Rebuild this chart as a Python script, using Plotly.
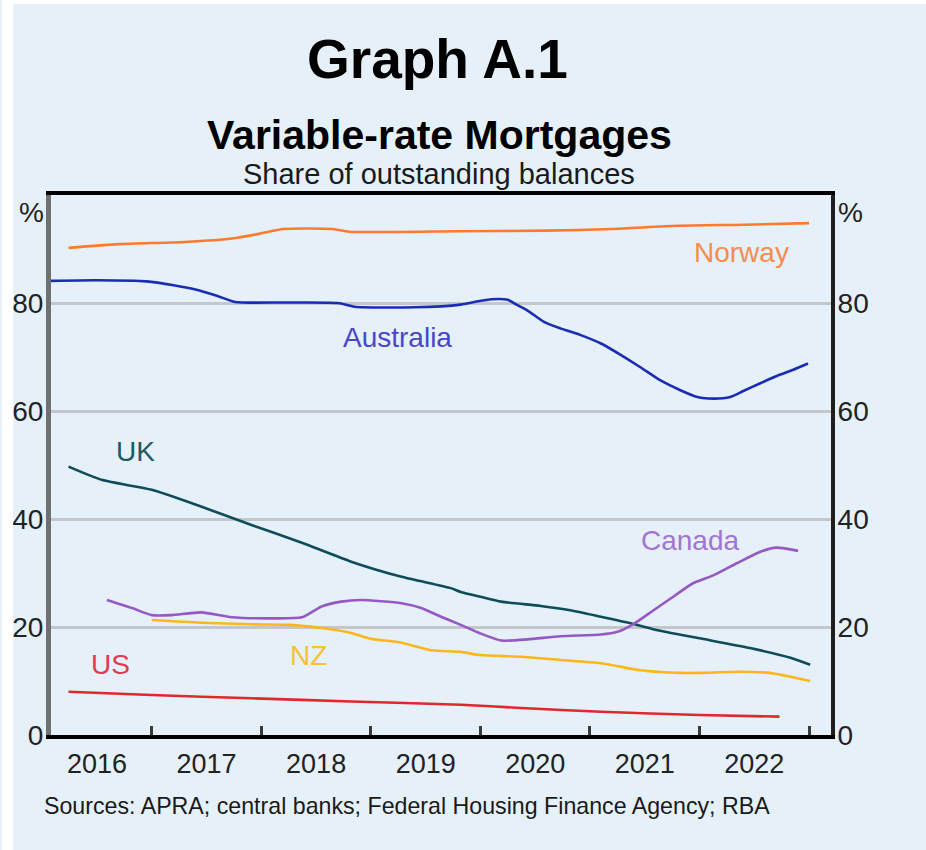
import plotly.graph_objects as go

# ---------------- data ----------------
norway_x = [2016.24, 2016.7, 2017.3, 2017.75, 2018.0, 2018.2, 2018.65, 2018.8, 2019.8, 2020.6, 2021.2, 2021.8, 2022.4, 2023.0]
norway_y = [90.2, 90.9, 91.3, 92.0, 92.9, 93.7, 93.7, 93.2, 93.3, 93.4, 93.7, 94.3, 94.5, 94.8]

australia_x = [2016.08, 2016.5, 2016.95, 2017.2, 2017.4, 2017.6, 2017.76, 2018.2, 2018.7, 2018.85, 2019.4,
               2019.82, 2020.0, 2020.1, 2020.25, 2020.33, 2020.43, 2020.58, 2020.73, 2020.91, 2021.1,
               2021.28, 2021.46, 2021.64, 2021.82, 2021.98, 2022.13, 2022.28, 2022.4, 2022.55, 2022.73,
               2022.85, 2022.99]
australia_y = [84.1, 84.2, 84.0, 83.3, 82.5, 81.3, 80.2, 80.1, 80.0, 79.3, 79.2,
               79.7, 80.4, 80.7, 80.6, 79.7, 78.6, 76.5, 75.3, 74.1, 72.5,
               70.4, 68.1, 65.7, 63.9, 62.6, 62.3, 62.6, 63.7, 65.1, 66.7,
               67.6, 68.8]

uk_x = [2016.24, 2016.55, 2017.0, 2017.45, 2017.91, 2018.37, 2018.82, 2019.28, 2019.73, 2019.82, 2020.0,
        2020.19, 2020.55, 2020.82, 2021.1, 2021.37, 2021.64, 2022.0, 2022.46, 2022.83, 2023.01]
uk_y = [49.7, 47.2, 45.4, 42.3, 38.9, 35.6, 32.1, 29.3, 27.2, 26.5, 25.6,
        24.7, 23.9, 23.1, 21.9, 20.7, 19.3, 17.9, 16.1, 14.3, 13.0]

canada_x = [2016.59, 2016.82, 2017.0, 2017.18, 2017.45, 2017.73, 2018.09, 2018.37, 2018.55, 2018.73,
            2018.91, 2019.28, 2019.46, 2019.64, 2019.82, 2020.0, 2020.19, 2020.43, 2020.73, 2021.1,
            2021.25, 2021.4, 2021.58, 2021.76, 2021.94, 2022.13, 2022.34, 2022.55, 2022.7, 2022.9]
canada_y = [25.0, 23.5, 22.2, 22.2, 22.7, 21.8, 21.6, 21.8, 23.8, 24.7,
            25.0, 24.4, 23.5, 21.9, 20.4, 18.8, 17.5, 17.7, 18.3, 18.6,
            19.1, 20.6, 23.1, 25.6, 28.1, 29.6, 31.8, 33.9, 34.7, 34.1]

nz_x = [2017.0, 2017.45, 2017.91, 2018.27, 2018.55, 2018.82, 2019.0, 2019.28, 2019.55, 2019.82, 2020.0,
        2020.37, 2020.73, 2021.1, 2021.46, 2021.82, 2022.0, 2022.37, 2022.64, 2022.83, 2023.01]
nz_y = [21.3, 20.8, 20.5, 20.4, 19.8, 18.9, 17.8, 17.1, 15.7, 15.4, 14.8,
        14.5, 13.9, 13.3, 12.0, 11.5, 11.5, 11.7, 11.5, 10.8, 10.0]

us_x = [2016.24, 2017.0, 2017.91, 2018.82, 2019.82, 2020.37, 2021.1, 2022.0, 2022.73]
us_y = [8.0, 7.4, 6.8, 6.2, 5.6, 5.0, 4.3, 3.7, 3.4]

year_labels = ["2016", "2017", "2018", "2019", "2020", "2021", "2022"]
year_starts = [2016, 2017, 2018, 2019, 2020, 2021, 2022, 2023]
y_ticks = [0, 20, 40, 60, 80]

series_names = ["Norway", "Australia", "UK", "Canada", "NZ", "US"]
label_x = [2022.38, 2019.24, 2016.85, 2021.92, 2018.43, 2016.62]
label_y = [89.3, 73.7, 52.5, 36.1, 14.8, 13.0]

# ---------------- styling ----------------
FONT = "Liberation Sans, Arial, Helvetica, sans-serif"
BG = "#e6f0f8"
line_colors = {
    "Norway": "#ff7a2c",
    "Australia": "#1a2db2",
    "UK": "#0d4c58",
    "Canada": "#9659c4",
    "NZ": "#fdb61c",
    "US": "#e0282d",
}
label_colors = {
    "Norway": "#f58c50",
    "Australia": "#4b45c8",
    "UK": "#1e5a66",
    "Canada": "#a474d2",
    "NZ": "#f5c235",
    "US": "#e23a52",
}
data = {
    "Norway": (norway_x, norway_y),
    "Australia": (australia_x, australia_y),
    "UK": (uk_x, uk_y),
    "Canada": (canada_x, canada_y),
    "NZ": (nz_x, nz_y),
    "US": (us_x, us_y),
}

fig = go.Figure()
for name in ["US", "NZ", "UK", "Canada", "Australia", "Norway"]:
    xs, ys = data[name]
    fig.add_trace(go.Scatter(
        x=xs, y=ys, mode="lines", name=name,
        line=dict(color=line_colors[name], width=2.6, shape="spline", smoothing=0.6),
        hoverinfo="skip", showlegend=False,
    ))
# invisible trace so the right-hand axis is drawn
fig.add_trace(go.Scatter(x=[2016.5], y=[0], yaxis="y2", mode="markers",
                         marker=dict(opacity=0), hoverinfo="skip", showlegend=False))

X_RANGE = [2016.08, 2023.2]
mid_years = [y + 0.5 for y in year_starts[:-1]]

fig.update_layout(
    width=926, height=850,
    margin=dict(l=49, r=95, t=195, b=115),
    paper_bgcolor=BG, plot_bgcolor=BG,
    font=dict(family=FONT, color="#1a1a1a"),
    xaxis=dict(
        range=X_RANGE, showgrid=False, zeroline=False,
        tickvals=mid_years, ticktext=year_labels, ticks="",
        tickfont=dict(size=27, family=FONT, color="#222"),
        ticklabelstandoff=2,
        showline=True, linecolor="#000000", linewidth=4, mirror=True,
        minor=dict(tickvals=year_starts, ticks="inside", ticklen=9, tickwidth=2.5,
                   tickcolor="#3a3a3a", showgrid=False),
    ),
    yaxis=dict(
        range=[0, 100], tickvals=y_ticks, ticktext=[str(v) for v in y_ticks],
        showgrid=True, gridcolor="#c3c6ca", gridwidth=2.5, zeroline=False,
        tickfont=dict(size=28, family=FONT, color="#222"),
        ticks="", ticklabelstandoff=-3,
        showline=True, linecolor="#6f7171", linewidth=5,
    ),
    yaxis2=dict(
        range=[0, 100], overlaying="y", side="right",
        tickvals=y_ticks, ticktext=[str(v) for v in y_ticks],
        showgrid=False, zeroline=False,
        tickfont=dict(size=28, family=FONT, color="#222"),
        ticks="", ticklabelstandoff=-3,
        showline=True, linecolor="#1e1e1e", linewidth=4,
    ),
    hovermode=False,
    showlegend=False,
)

annotations = []
annotations.append(dict(text="<b>Graph A.1</b>", x=0.5, y=(735 - 59) / 540, xref="paper", yref="paper",
                        showarrow=False, font=dict(size=55, family=FONT, color="#000"),
                        xanchor="center", yanchor="middle", xshift=-4))
annotations.append(dict(text="<b>Variable-rate Mortgages</b>", x=0.5, y=(735 - 135) / 540, xref="paper",
                        yref="paper", showarrow=False, font=dict(size=41, family=FONT, color="#000"),
                        xanchor="center", yanchor="middle", xshift=-2))
annotations.append(dict(text="Share of outstanding balances", x=0.5, y=(735 - 174) / 540, xref="paper",
                        yref="paper", showarrow=False, font=dict(size=29, family=FONT, color="#1a1a1a"),
                        xanchor="center", yanchor="middle", xshift=-2))
annotations.append(dict(text="Sources: APRA; central banks; Federal Housing Finance Agency; RBA",
                        x=(40 - 49) / 782, y=(735 - 806) / 540, xref="paper", yref="paper",
                        showarrow=False, font=dict(size=23.2, family=FONT, color="#1a1a1a"),
                        xanchor="left", yanchor="middle"))
# % unit labels at the top of both axes
annotations.append(dict(text="%", x=0, y=100, xref="paper", yref="y", showarrow=False,
                        xanchor="right", yanchor="top", xshift=-5,
                        font=dict(size=28, family=FONT, color="#222")))
annotations.append(dict(text="%", x=1, y=100, xref="paper", yref="y", showarrow=False,
                        xanchor="left", yanchor="top", xshift=5,
                        font=dict(size=28, family=FONT, color="#222")))
# series labels
for name, lx, ly in zip(series_names, label_x, label_y):
    annotations.append(dict(text=name, x=lx, y=ly, xref="x", yref="y", showarrow=False,
                            xanchor="center", yanchor="middle",
                            font=dict(size=28, family=FONT, color=label_colors[name])))
fig.update_layout(annotations=annotations)

# white strips at the left and top edge of the image
x0p = (0 - 49) / 782
x11p = (11 - 49) / 782
xr = (926 - 49) / 782
fig.update_layout(shapes=[
    dict(type="rect", xref="paper", yref="paper", x0=x0p, x1=x11p, y0=(735 - 850) / 540, y1=(735 - 0) / 540,
         fillcolor="#ffffff", line=dict(width=0), layer="above"),
    dict(type="rect", xref="paper", yref="paper", x0=x0p, x1=xr, y0=(735 - 4) / 540, y1=(735 - 0) / 540,
         fillcolor="#ffffff", line=dict(width=0), layer="above"),
])

fig.write_html(
    "out.html",
    config=dict(displayModeBar=False),
    post_script="document.body.style.margin='0px';document.body.style.overflow='hidden';",
)
